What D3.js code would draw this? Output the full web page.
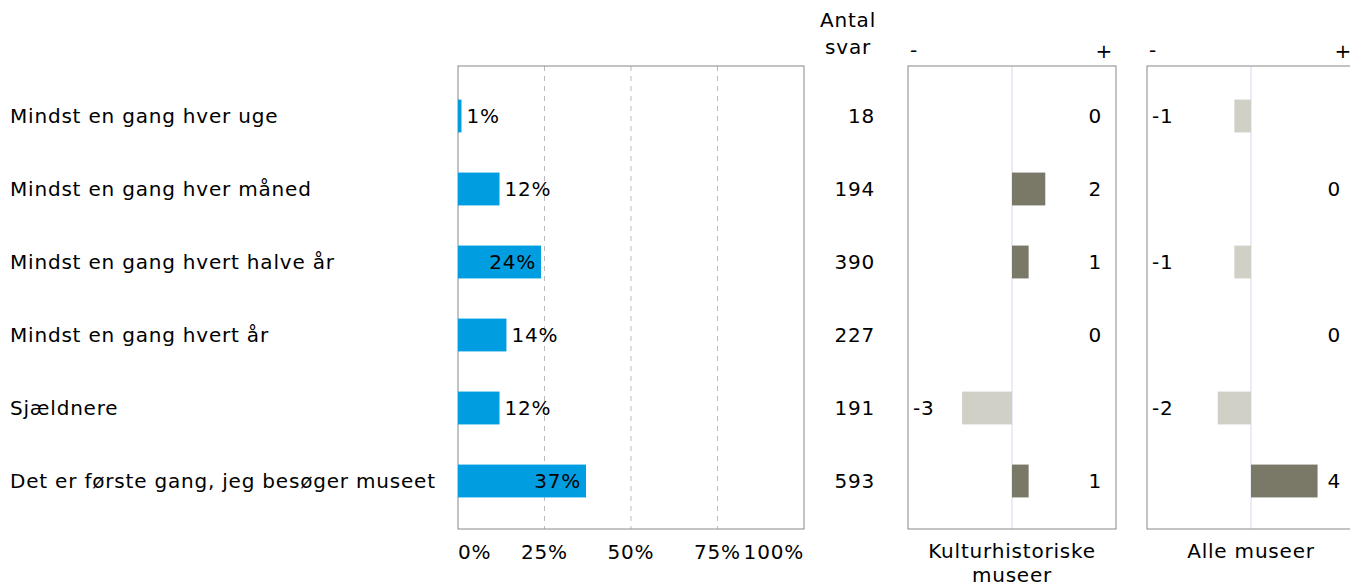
<!DOCTYPE html>
<html>
<head>
<meta charset="utf-8">
<script src="https://cdn.jsdelivr.net/npm/d3@7"></script>
<style>
body { margin: 0; background: #fff; }
svg text { font-family: "DejaVu Sans", Verdana, sans-serif; font-size: 20px; letter-spacing: 0.8px; fill: #000; }
</style>
</head>
<body>
<svg width="1350" height="588"></svg>
<script>
var categories = ["Mindst en gang hver uge", "Mindst en gang hver måned", "Mindst en gang hvert halve år",
  "Mindst en gang hvert år", "Sjældnere", "Det er første gang, jeg besøger museet"];
var shares = [1, 12, 24, 14, 12, 37];
var antal = [18, 194, 390, 227, 191, 593];
var diffKultur = [0, 2, 1, 0, -3, 1];
var diffAlle = [-1, 0, -1, 0, -2, 4];
var pctTicks = [0, 25, 50, 75, 100];
var panelTitles = [["Kulturhistoriske", "museer"], ["Alle museer"]];

var svg = d3.select("svg");
var plotTop = 66, plotBottom = 529;

var y = d3.scaleBand()
  .domain(categories)
  .range([79.5, 517.5])
  .paddingInner(0.55)
  .paddingOuter(0.275);

function rowMid(i) { return y(categories[i]) + y.bandwidth() / 2; }

// title (mostly above the visible area)
svg.append("text")
  .attr("x", 10).attr("y", -5)
  .style("font-weight", "bold")
  .style("letter-spacing", "0px")
  .text("Hvor ofte kommer du, gæst");

// category labels
svg.selectAll(".cat")
  .data(categories)
  .enter().append("text")
  .attr("class", "cat")
  .attr("x", 10)
  .attr("y", function(d, i) { return rowMid(i); })
  .attr("dy", "0.35em")
  .text(function(d) { return d; });

// main percentage panel
var x = d3.scaleLinear().domain([0, 100]).range([458, 804]);

svg.selectAll(".grid")
  .data(pctTicks.slice(1, -1))
  .enter().append("line")
  .attr("x1", function(d) { return x(d); })
  .attr("x2", function(d) { return x(d); })
  .attr("y1", plotTop).attr("y2", plotBottom)
  .attr("stroke", "#bbb")
  .attr("stroke-dasharray", "5,5");

svg.append("rect")
  .attr("x", x(0)).attr("y", plotTop)
  .attr("width", x(100) - x(0)).attr("height", plotBottom - plotTop)
  .attr("fill", "none").attr("stroke", "#888");

svg.selectAll(".bar")
  .data(shares)
  .enter().append("rect")
  .attr("x", x(0))
  .attr("y", function(d, i) { return y(categories[i]); })
  .attr("width", function(d) { return x(d) - x(0); })
  .attr("height", y.bandwidth())
  .attr("fill", "#009ee0");

svg.selectAll(".pct")
  .data(shares)
  .enter().append("text")
  .attr("x", function(d) { return d > 20 ? x(d) - 5 : x(d) + 5; })
  .attr("y", function(d, i) { return rowMid(i); })
  .attr("dy", "0.35em")
  .attr("text-anchor", function(d) { return d > 20 ? "end" : "start"; })
  .text(function(d) { return d + "%"; });

svg.selectAll(".tick")
  .data(pctTicks)
  .enter().append("text")
  .attr("x", function(d) { return x(d); })
  .attr("y", 559)
  .attr("text-anchor", function(d, i) { return i === 0 ? "start" : i === pctTicks.length - 1 ? "end" : "middle"; })
  .text(function(d) { return d + "%"; });

// antal svar
svg.append("text").attr("x", 876).attr("y", 27).attr("text-anchor", "end").text("Antal");
svg.append("text").attr("x", 871).attr("y", 54).attr("text-anchor", "end").text("svar");
svg.selectAll(".antal")
  .data(antal)
  .enter().append("text")
  .attr("x", 875)
  .attr("y", function(d, i) { return rowMid(i); })
  .attr("dy", "0.35em")
  .attr("text-anchor", "end")
  .text(function(d) { return d; });

// difference panels
function diffPanel(values, left, titleLines) {
  var dx = d3.scaleLinear().domain([-6.25, 6.25]).range([left, left + 208]);
  var g = svg.append("g");

  g.append("line")
    .attr("x1", dx(0)).attr("x2", dx(0))
    .attr("y1", plotTop).attr("y2", plotBottom)
    .attr("stroke", "#d8d8f0");

  g.append("rect")
    .attr("x", dx(-6.25)).attr("y", plotTop)
    .attr("width", dx(6.25) - dx(-6.25)).attr("height", plotBottom - plotTop)
    .attr("fill", "none").attr("stroke", "#888");

  g.append("text").attr("x", dx(-6.25) + 2).attr("y", 57).text("-");
  g.append("text").attr("x", dx(6.25) - 3).attr("y", 58).attr("text-anchor", "end").text("+");

  g.selectAll(".dbar")
    .data(values)
    .enter().append("rect")
    .attr("x", function(d) { return dx(Math.min(0, d)); })
    .attr("y", function(d, i) { return y(categories[i]); })
    .attr("width", function(d) { return Math.abs(dx(d) - dx(0)); })
    .attr("height", y.bandwidth())
    .attr("fill", function(d) { return d < 0 ? "#d0d0c6" : "#7a7866"; });

  g.selectAll(".dval")
    .data(values)
    .enter().append("text")
    .attr("x", function(d) { return d < 0 ? dx(-6.25) + 5 : dx(6.25) - 14; })
    .attr("y", function(d, i) { return rowMid(i); })
    .attr("dy", "0.35em")
    .attr("text-anchor", function(d) { return d < 0 ? "start" : "end"; })
    .text(function(d) { return d; });

  g.selectAll(".ptitle")
    .data(titleLines)
    .enter().append("text")
    .attr("x", dx(0))
    .attr("y", function(d, i) { return 558 + i * 24; })
    .attr("text-anchor", "middle")
    .text(function(d) { return d; });
}

diffPanel(diffKultur, 908, panelTitles[0]);
diffPanel(diffAlle, 1147, panelTitles[1]);
</script>
</body>
</html>
